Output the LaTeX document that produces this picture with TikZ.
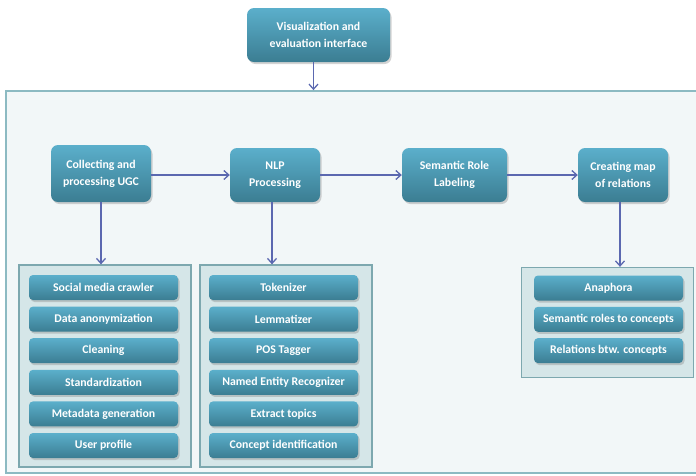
\documentclass[tikz,border=0pt]{standalone}
\usepackage{fontspec}
\setmainfont{Carlito}
\usetikzlibrary{shadows,arrows.meta}

\definecolor{boxtop}{HTML}{5BAFCB}
\definecolor{boxbot}{HTML}{3B7D92}
\definecolor{grpfill}{HTML}{D5E6E8}
\definecolor{grpline}{HTML}{7DA8AF}
\definecolor{outerfill}{HTML}{F2F7F8}
\definecolor{outerline}{HTML}{8CBAC2}
\definecolor{flowcol}{HTML}{5B68B0}

\tikzset{
  stagebox/.style={rounded corners=7pt, top color=boxtop, bottom color=boxbot,
    text=white, font=\bfseries\fontsize{11.8}{17}\selectfont, align=center,
    inner sep=2pt,
    drop shadow={opacity=0.35, shadow xshift=1.5pt, shadow yshift=-2pt}},
  itembox/.style={stagebox, rounded corners=4pt, minimum width=149pt,
    minimum height=25pt, font=\bfseries\fontsize{11.8}{13}\selectfont},
  groupbox/.style={draw=grpline, fill=grpfill, line width=1.3pt, inner sep=0pt},
  flow/.style={-{Straight Barb[length=5pt,width=9pt]}, flowcol, line width=1.3pt}
}

\begin{document}
\begin{tikzpicture}[x=1pt, y=-1pt]
            \useasboundingbox (0,0) rectangle (696,475);

            % Outer frame
            \node[draw=outerline, fill=outerfill, line width=1.8pt, inner sep=0pt,
                  minimum width=694pt, minimum height=382pt] (frame) at (353,282) {};

            % Top box
            \node[stagebox, minimum width=143pt, minimum height=54pt] (visual) at (318.5,35)
                  {Visualization and\\evaluation interface};

            % Main stages
            \node[stagebox, minimum width=100pt, minimum height=57pt] (collect) at (101,173.5)
                  {Collecting and\\processing UGC};
            \node[stagebox, minimum width=90pt, minimum height=54pt] (nlp) at (275,175)
                  {NLP\\Processing};
            \node[stagebox, minimum width=105pt, minimum height=54pt] (srl) at (454.5,175)
                  {Semantic Role\\Labeling};
            \node[stagebox, minimum width=90pt, minimum height=54pt] (relmap) at (623,175)
                  {Creating map\\of relations};

            % Group boxes
            \node[groupbox, minimum width=172pt, minimum height=202pt] (ugcgroup) at (105,366) {};
            \node[groupbox, minimum width=172pt, minimum height=202pt] (nlpgroup) at (286,366) {};
            \node[groupbox, minimum width=172pt, minimum height=110pt] (mapgroup) at (607.5,322.5) {};

            % Items in the groups
            \foreach \i/\txt in {0/Social media crawler, 1/Data anonymization, 2/Cleaning,
                3/Standardization, 4/Metadata generation, 5/User profile}{
            \node[itembox] (ugc\i) at (103.5,287.5+31.6*\i) {\txt};
            }
            \foreach \i/\txt in {0/Tokenizer, 1/Lemmatizer, 2/POS Tagger,
                3/Named Entity Recognizer, 4/Extract topics, 5/Concept identification}{
            \node[itembox] (tool\i) at (283.5,287.5+31.6*\i) {\txt};
            }
            \foreach \i/\txt in {0/Anaphora, 1/Semantic roles to concepts, 2/Relations btw. concepts}{
            \node[itembox] (rel\i) at (608.5,288+31.3*\i) {\txt};
            }

            % Arrows
            \draw[flow] ([xshift=-5pt]visual.south) -- ([xshift=-5pt]visual.south |- frame.north);
            \draw[flow] (collect.east |- nlp) -- (nlp);
            \draw[flow] (nlp.east) -- (srl);
            \draw[flow] (srl.east) -- (relmap);
            \draw[flow] (collect.south) -- (collect.south |- ugcgroup.north);
            \draw[flow] ([xshift=-3pt]nlp.south) -- ([xshift=-3pt]nlp.south |- nlpgroup.north);
            \draw[flow] ([xshift=-3pt]relmap.south) -- ([xshift=-3pt]relmap.south |- mapgroup.north);
\end{tikzpicture}
\end{document}
